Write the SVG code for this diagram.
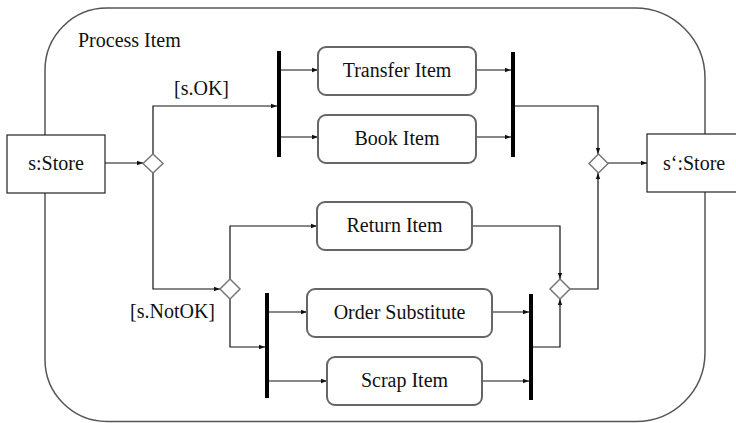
<svg xmlns="http://www.w3.org/2000/svg" width="736" height="423" viewBox="0 0 736 423">
  <style>
    .frame { fill: none; stroke: #555; stroke-width: 1.5; }
    .obj { fill: #fff; stroke: #222; stroke-width: 1.2; }
    .act { fill: #fff; stroke: #666; stroke-width: 2; }
    .dec { fill: #fff; stroke: #777; stroke-width: 1.5; }
    .bar { fill: #000; }
    .flow { fill: none; stroke: #111; stroke-width: 1.2; marker-end: url(#arrow); }
    text { font-family: "Liberation Serif", "Times New Roman", "DejaVu Serif", serif; font-size: 20px; fill: #111; }
    .c { text-anchor: middle; }
  </style>
  <defs>
    <marker id="arrow" viewBox="0 0 6 6" refX="6" refY="3" markerWidth="6" markerHeight="6" markerUnits="userSpaceOnUse" orient="auto">
      <path d="M0,0.8 L6,3 L0,5.2 z" fill="#111"/>
    </marker>
  </defs>

  <!-- activity frame -->
  <g id="process-item">
    <path class="frame" d="M107,8 H635 A70,70 0 0 1 705,78 V353 A69,69 0 0 1 636,421.5 H107 A62,62 0 0 1 45,359.5 V70 A62,62 0 0 1 107,8 Z"/>
    <text x="78" y="47">Process Item</text>
  </g>

  <!-- connectors -->
  <g id="connectors">
    <path class="flow" d="M105,163 H143"/>
    <path class="flow" d="M153,154 V106 H277"/>
    <path class="flow" d="M281,70 H318"/>
    <path class="flow" d="M281,137 H318"/>
    <path class="flow" d="M476,70 H511"/>
    <path class="flow" d="M476,137 H511"/>
    <path class="flow" d="M515,106 H598 V154"/>
    <path class="flow" d="M608,163 H647"/>
    <path class="flow" d="M153,173 V289 H220"/>
    <path class="flow" d="M230,279 V226 H317"/>
    <path class="flow" d="M230,299 V347 H265"/>
    <path class="flow" d="M269,312 H307"/>
    <path class="flow" d="M269,381 H327"/>
    <path class="flow" d="M472,226 H560 V279"/>
    <path class="flow" d="M492,312 H529"/>
    <path class="flow" d="M482,381 H529"/>
    <path class="flow" d="M533,347 H560 V299"/>
    <path class="flow" d="M570,289 H598 V173"/>
    <text x="174" y="95">[s.OK]</text>
    <text x="130" y="318">[s.NotOK]</text>
  </g>

  <!-- object nodes -->
  <g id="s-store">
    <rect class="obj" x="7" y="135" width="98" height="58"/>
    <text class="c" x="56" y="170">s:Store</text>
  </g>
  <g id="s2-store">
    <rect class="obj" x="647" y="134" width="100" height="58"/>
    <text x="663" y="170">s‘:Store</text>
  </g>

  <!-- decision / merge nodes -->
  <g id="decision-ok"><polygon class="dec" points="153,154 163,163.5 153,173 143,163.5"/></g>
  <g id="merge-out"><polygon class="dec" points="598.5,154 608,163.5 598.5,173 589,163.5"/></g>
  <g id="decision-notok"><polygon class="dec" points="230,279 240,289 230,299 220,289"/></g>
  <g id="merge-notok"><polygon class="dec" points="560,279 570,289 560,299 550,289"/></g>

  <!-- fork / join bars -->
  <g id="fork-ok"><rect class="bar" x="277" y="51" width="4" height="106"/></g>
  <g id="join-ok"><rect class="bar" x="511" y="52" width="4" height="105"/></g>
  <g id="fork-notok"><rect class="bar" x="265" y="293" width="4" height="105"/></g>
  <g id="join-notok"><rect class="bar" x="529" y="294" width="4" height="106"/></g>

  <!-- actions -->
  <g id="transfer-item">
    <rect class="act" x="318" y="47" width="158" height="48" rx="8"/>
    <text class="c" x="397" y="77">Transfer Item</text>
  </g>
  <g id="book-item">
    <rect class="act" x="318" y="115" width="158" height="48" rx="8"/>
    <text class="c" x="397" y="145">Book Item</text>
  </g>
  <g id="return-item">
    <rect class="act" x="317" y="202" width="155" height="48" rx="8"/>
    <text class="c" x="394.5" y="232">Return Item</text>
  </g>
  <g id="order-substitute">
    <rect class="act" x="307" y="289" width="185" height="48" rx="8"/>
    <text class="c" x="399.5" y="319">Order Substitute</text>
  </g>
  <g id="scrap-item">
    <rect class="act" x="327" y="357" width="155" height="48" rx="8"/>
    <text class="c" x="404.5" y="387">Scrap Item</text>
  </g>
</svg>
